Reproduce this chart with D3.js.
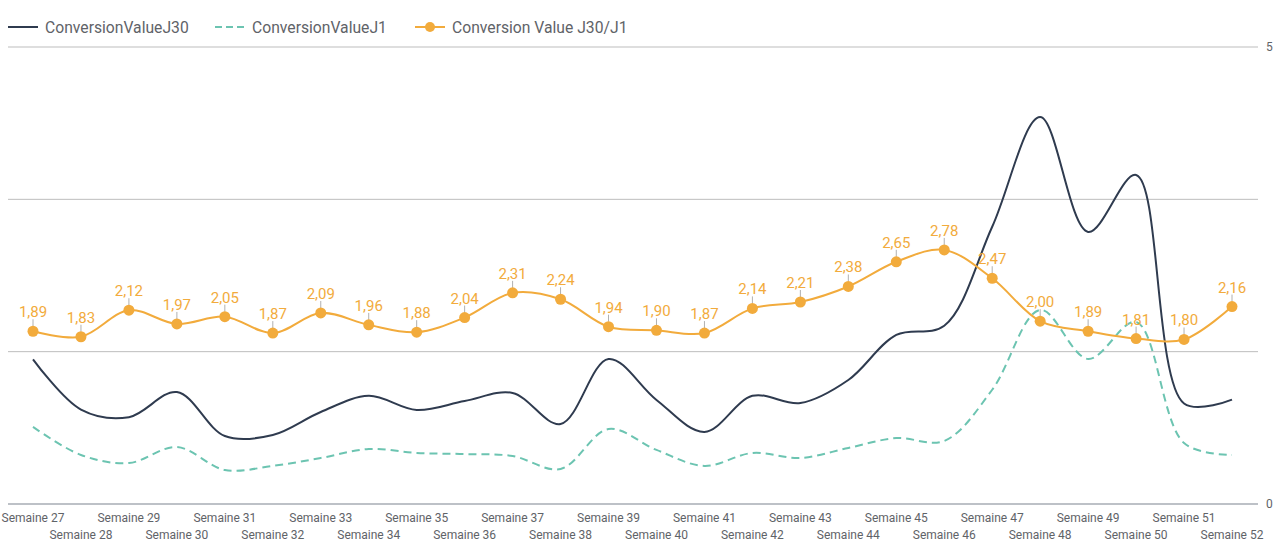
<!DOCTYPE html>
<html>
<head>
<meta charset="utf-8">
<script src="https://cdn.jsdelivr.net/npm/d3@7"></script>
<style>
  body { margin: 0; background: #fff; }
  text { font-family: Roboto, "Noto Sans", sans-serif; }
</style>
</head>
<body>
<svg width="1280" height="553"></svg>
<script>
// Data
var weeks = ["Semaine 27", "Semaine 28", "Semaine 29", "Semaine 30", "Semaine 31", "Semaine 32",
  "Semaine 33", "Semaine 34", "Semaine 35", "Semaine 36", "Semaine 37", "Semaine 38", "Semaine 39",
  "Semaine 40", "Semaine 41", "Semaine 42", "Semaine 43", "Semaine 44", "Semaine 45", "Semaine 46",
  "Semaine 47", "Semaine 48", "Semaine 49", "Semaine 50", "Semaine 51", "Semaine 52"];

var valueJ30 = [95, 62, 57, 73.5, 44.6, 45.3, 60.4, 71, 61.7, 67.6, 72.9, 52.5, 95.2,
  68.3, 47.3, 71, 66.3, 81.4, 111, 117, 182, 254, 178.6, 216, 66, 68.5];

var valueJ1 = [50.6, 32.2, 26.9, 37.4, 22.3, 25, 30.2, 36.1, 33.5, 32.8, 31.5, 23, 49.2,
  35.5, 25, 33.5, 30.2, 36.8, 43.3, 41.4, 75, 127.4, 95.2, 119.5, 40, 32.2];

var ratioJ30J1 = [1.89, 1.83, 2.12, 1.97, 2.05, 1.87, 2.09, 1.96, 1.88, 2.04, 2.31, 2.24, 1.94,
  1.90, 1.87, 2.14, 2.21, 2.38, 2.65, 2.78, 2.47, 2.00, 1.89, 1.81, 1.80, 2.16];

var leftTicks = [0, 100, 200, 300];
var rightTicks = [0, 5];

var legendNames = ["ConversionValueJ30", "ConversionValueJ1", "Conversion Value J30/J1"];

// colors
var navy = "#2f3b4f",
    teal = "#6cc4b1",
    orange = "#f2ab3c",
    grey = "#5f6368";

var svg = d3.select("svg");

var x = d3.scalePoint()
    .domain(weeks)
    .range([33, 1232]);

var yLeft = d3.scaleLinear()
    .domain([0, 300])
    .range([504, 47]);

var yRight = d3.scaleLinear()
    .domain([0, 5])
    .range([504, 47]);

var fr = d3.formatLocale({ decimal: ",", thousands: " ", grouping: [3], currency: ["", " €"] });
var fmt = fr.format(".2f");

// gridlines
svg.append("g")
    .selectAll("line")
    .data(leftTicks.slice(1))
    .enter()
    .append("line")
    .attr("x1", 8)
    .attr("x2", 1258)
    .attr("y1", d => yLeft(d))
    .attr("y2", d => yLeft(d))
    .attr("stroke", "#bdbdbd")
    .attr("stroke-width", 1);

// baseline
svg.append("line")
    .attr("x1", 8)
    .attr("x2", 1258)
    .attr("y1", yLeft(0))
    .attr("y2", yLeft(0))
    .attr("stroke", "#a7adb5")
    .attr("stroke-width", 1.5);

// right axis labels
svg.append("g")
    .selectAll("text")
    .data(rightTicks)
    .enter()
    .append("text")
    .attr("x", 1266)
    .attr("y", d => yRight(d) + 4)
    .attr("font-size", 12)
    .attr("fill", grey)
    .text(d => d);

// x axis labels, staggered
svg.append("g")
    .selectAll("text")
    .data(weeks)
    .enter()
    .append("text")
    .attr("x", d => x(d))
    .attr("y", (d, i) => i % 2 === 0 ? 522 : 539)
    .attr("text-anchor", "middle")
    .attr("font-size", 12)
    .attr("fill", grey)
    .text(d => d);

var curve = d3.curveCatmullRom.alpha(0.5);

var lineLeft = d3.line()
    .x((d, i) => x(weeks[i]))
    .y(d => yLeft(d))
    .curve(curve);

var lineRight = d3.line()
    .x((d, i) => x(weeks[i]))
    .y(d => yRight(d))
    .curve(curve);

// J1 dashed
svg.append("path")
    .datum(valueJ1)
    .attr("d", lineLeft)
    .attr("fill", "none")
    .attr("stroke", teal)
    .attr("stroke-width", 2)
    .attr("stroke-dasharray", "8,5");

// J30
svg.append("path")
    .datum(valueJ30)
    .attr("d", lineLeft)
    .attr("fill", "none")
    .attr("stroke", navy)
    .attr("stroke-width", 2);

// ratio line
svg.append("path")
    .datum(ratioJ30J1)
    .attr("d", lineRight)
    .attr("fill", "none")
    .attr("stroke", orange)
    .attr("stroke-width", 2);

var pts = svg.append("g")
    .selectAll("g")
    .data(ratioJ30J1)
    .enter()
    .append("g")
    .attr("transform", (d, i) => "translate(" + x(weeks[i]) + "," + yRight(d) + ")");

pts.append("line")
    .attr("y1", -5)
    .attr("y2", -12)
    .attr("stroke", "#b0b0b0")
    .attr("stroke-width", 1);

pts.append("circle")
    .attr("r", 5.5)
    .attr("fill", orange);

pts.append("text")
    .attr("y", -14)
    .attr("text-anchor", "middle")
    .attr("font-size", 15)
    .attr("fill", orange)
    .text(d => fmt(d));

// legend
var legendX = [8, 215, 415];
var lg = svg.append("g")
    .selectAll("g")
    .data(legendNames)
    .enter()
    .append("g")
    .attr("transform", (d, i) => "translate(" + legendX[i] + ",27)");

lg.append("line")
    .attr("x1", 0)
    .attr("x2", 30)
    .attr("stroke", (d, i) => [navy, teal, orange][i])
    .attr("stroke-width", 2)
    .attr("stroke-dasharray", (d, i) => i === 1 ? "7,4" : null);

lg.filter((d, i) => i === 2)
    .append("circle")
    .attr("cx", 15)
    .attr("r", 5)
    .attr("fill", orange);

lg.append("text")
    .attr("x", 37)
    .attr("y", 5.5)
    .attr("font-size", 15.7)
    .attr("fill", grey)
    .text(d => d);
</script>
</body>
</html>
